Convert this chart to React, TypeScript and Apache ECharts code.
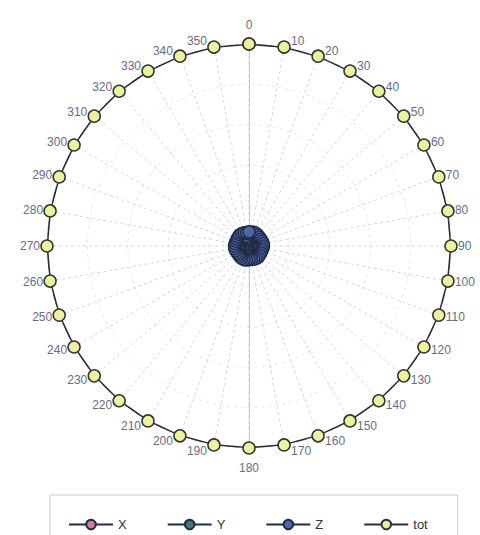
import React, { useEffect, useRef } from 'react';
import * as echarts from 'echarts';

const angleTicks = [0, 10, 20, 30, 40, 50, 60, 70, 80, 90, 100, 110, 120, 130, 140, 150, 160, 170,
  180, 190, 200, 210, 220, 230, 240, 250, 260, 270, 280, 290, 300, 310, 320, 330, 340, 350];

const totValues = [1, 1, 1, 1, 1, 1, 1, 1, 1, 1, 1, 1, 1, 1, 1, 1, 1, 1,
  1, 1, 1, 1, 1, 1, 1, 1, 1, 1, 1, 1, 1, 1, 1, 1, 1, 1];

const xValues = [0.04, 0.045, 0.05, 0.05, 0.045, 0.04, 0.035, 0.03, 0.03, 0.035, 0.04, 0.045,
  0.05, 0.05, 0.045, 0.04, 0.035, 0.03, 0.03, 0.035, 0.04, 0.045, 0.05, 0.05,
  0.045, 0.04, 0.035, 0.03, 0.03, 0.035, 0.04, 0.045, 0.05, 0.05, 0.045, 0.04];

const yValues = [0.06, 0.055, 0.05, 0.05, 0.055, 0.06, 0.065, 0.065, 0.06, 0.055, 0.05, 0.05,
  0.055, 0.06, 0.065, 0.065, 0.06, 0.055, 0.05, 0.05, 0.055, 0.06, 0.065, 0.065,
  0.06, 0.055, 0.05, 0.05, 0.055, 0.06, 0.065, 0.065, 0.06, 0.055, 0.05, 0.05];

const zValues = [0.07, 0.07, 0.072, 0.072, 0.07, 0.068, 0.068, 0.07, 0.072, 0.072, 0.07, 0.068,
  0.068, 0.07, 0.072, 0.072, 0.07, 0.068, 0.068, 0.07, 0.072, 0.072, 0.07, 0.068,
  0.068, 0.07, 0.072, 0.072, 0.07, 0.068, 0.068, 0.07, 0.072, 0.072, 0.07, 0.068];

const seriesNames = ['X', 'Y', 'Z', 'tot'];
const seriesColors = ['#d47c92', '#3f7a77', '#4c67a8', '#eef29a'];

const CX = 249;
const CY = 246;
const RAD = 202;
const MARGIN = -20;
const FS = 12;
const LABEL_COLOR = '#676c88';
const FONT = 'Liberation Sans, Arial, sans-serif';

function toPolar(values: number[]) {
  const pts = values.map((v, i) => [v, angleTicks[i]]);
  pts.push([values[0], 360]);
  return pts;
}

// Per-label padding so that each label sits next to its marker (Highcharts-like placement)
function buildRich() {
  const rich: Record<string, any> = {};
  angleTicks.forEach((v) => {
    const t = (v * Math.PI) / 180;
    const s = Math.sin(t);
    const c = Math.cos(t);
    const px = CX + RAD * s;
    const py = CY - RAD * c;
    const ax = CX + (RAD + MARGIN) * s;
    const ay = CY - (RAD + MARGIN) * c;
    const w = String(v).length * FS * 0.556;
    const h = FS;
    let tl: number;
    let tcy: number;
    if (Math.abs(s) < 1e-6) {
      tl = px - w / 2;
      tcy = c > 0 ? py - 19 : py + 20;
    } else if (s > 0) {
      tl = px + 7;
      tcy = py - 6 * c;
    } else {
      tl = px - 7 - w;
      tcy = py - 6 * c;
    }
    const tt = tcy - h / 2;
    const align = Math.abs(ax - CX) / RAD < 0.3 ? 'center' : ax > CX ? 'left' : 'right';
    const valign = Math.abs(ay - CY) / RAD < 0.3 ? 'middle' : ay > CY ? 'top' : 'bottom';
    let pl = 0, pr = 0, pt = 0, pb = 0;
    if (align === 'left') pl = tl - ax;
    else if (align === 'right') pr = ax - (tl + w);
    else {
      const d = tl + w / 2 - ax;
      if (d > 0) pl = 2 * d; else pr = -2 * d;
    }
    if (valign === 'top') pt = tt - ay;
    else if (valign === 'bottom') pb = ay - (tt + h);
    else {
      const d = tcy - ay;
      if (d > 0) pt = 2 * d; else pb = -2 * d;
    }
    rich['a' + v] = {
      padding: [Math.max(0, pt), Math.max(0, pr), Math.max(0, pb), Math.max(0, pl)],
      fontSize: FS,
      color: LABEL_COLOR,
      fontFamily: FONT,
    };
  });
  return rich;
}

export default function App() {
  const ref = useRef<HTMLDivElement>(null);
  useEffect(() => {
    if (!ref.current) return;
    const chart = echarts.init(ref.current, undefined, { renderer: 'svg' });
    const allValues = [xValues, yValues, zValues, totValues];
    chart.setOption({
      animation: false,
      backgroundColor: '#ffffff',
      polar: [
        { center: [CX, CY], radius: RAD },
        { center: [CX, CY], radius: RAD },
      ],
      angleAxis: [
        {
          polarIndex: 0,
          type: 'value',
          min: 0,
          max: 360,
          interval: 10,
          startAngle: 90,
          clockwise: true,
          axisLine: { show: false },
          axisTick: { show: false },
          axisLabel: {
            show: true,
            margin: MARGIN,
            color: LABEL_COLOR,
            fontSize: FS,
            fontFamily: FONT,
            formatter: (v: number) => (v === 360 ? '' : `{a${v}|${v}}`),
            rich: buildRich(),
          },
          splitLine: { show: true, lineStyle: { color: '#d0d7e7', type: [3, 3], width: 1 } },
        },
        {
          polarIndex: 1,
          type: 'value',
          min: 0,
          max: 360,
          startAngle: 270,
          axisLine: { show: false },
          axisTick: { show: false },
          axisLabel: { show: false },
          splitLine: { show: false },
        },
      ],
      radiusAxis: [
        {
          polarIndex: 0,
          type: 'value',
          min: 0,
          max: 1,
          interval: 0.2,
          axisLine: { show: true, lineStyle: { color: '#c8c8c8', width: 1 } },
          axisTick: { show: false },
          axisLabel: { show: false },
          splitLine: { show: true, lineStyle: { color: '#e0e5ef', type: [3, 4], width: 1 } },
        },
        {
          polarIndex: 1,
          type: 'value',
          min: 0,
          max: 1,
          axisLine: { show: true, lineStyle: { color: '#c8c8c8', width: 1 } },
          axisTick: { show: false },
          axisLabel: { show: false },
          splitLine: { show: false },
        },
      ],
      legend: {
        top: 495,
        left: 50,
        data: seriesNames,
        orient: 'horizontal',
        borderColor: '#cccccc',
        borderWidth: 1,
        padding: [23, 30, 20, 18],
        itemGap: 40,
        itemWidth: 44,
        itemHeight: 12,
        textStyle: { color: '#333333', fontSize: 13, fontFamily: FONT },
      },
      series: seriesNames.map((name, i) => ({
        name,
        type: 'line',
        coordinateSystem: 'polar',
        polarIndex: 0,
        clip: false,
        data: toPolar(allValues[i]),
        symbol: 'circle',
        symbolSize: 12,
        showSymbol: true,
        showAllSymbol: true,
        lineStyle: { color: i === 3 ? '#2b2d3c' : '#232a45', width: 2 },
        itemStyle: {
          color: seriesColors[i],
          borderColor: i === 3 ? '#333333' : '#232a45',
          borderWidth: i === 3 ? 1.5 : 1.3,
        },
        z: 2 + i,
      })),
    });
    return () => chart.dispose();
  }, []);
  return <div ref={ref} style={{ position: 'fixed', left: 0, top: 0, width: 480, height: 535 }} />;
}
